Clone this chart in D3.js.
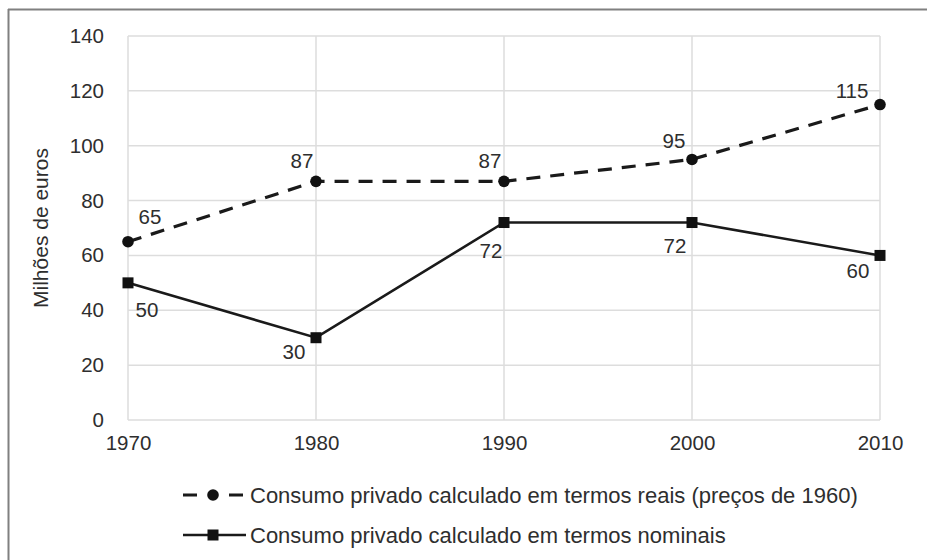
<!DOCTYPE html>
<html>
<head>
<meta charset="utf-8">
<script src="https://cdn.jsdelivr.net/npm/d3@7"></script>
<style>
  html, body { margin: 0; padding: 0; background: #fff; }
  svg { display: block; }
  text { font-family: "Liberation Sans", Arial, sans-serif; fill: #2e2e2e; }
</style>
</head>
<body>
<svg id="chart" width="927" height="560"></svg>
<script>
// ---- data ----
const years = [1970, 1980, 1990, 2000, 2010];
const realValues = [65, 87, 87, 95, 115];
const nominalValues = [50, 30, 72, 72, 60];
const yTicks = [0, 20, 40, 60, 80, 100, 120, 140];
const seriesNames = [
  "Consumo privado calculado em termos reais (preços de 1960)",
  "Consumo privado calculado em termos nominais"
];
const yTitle = "Milhões de euros";

// ---- layout ----
const W = 927, H = 560;
const plot = { left: 128, right: 880, top: 36, bottom: 420 };

const svg = d3.select("#chart");

// outer frame (top and left edges visible)
svg.append("line").attr("x1", 8).attr("x2", W).attr("y1", 9.5).attr("y2", 9.5)
  .attr("stroke", "#808080").attr("stroke-width", 2);
svg.append("line").attr("x1", 8.5).attr("x2", 8.5).attr("y1", 9).attr("y2", H)
  .attr("stroke", "#808080").attr("stroke-width", 2);

const x = d3.scalePoint().domain(years).range([plot.left, plot.right]);
const y = d3.scaleLinear().domain([0, 140]).range([plot.bottom, plot.top]);

// gridlines
const grid = svg.append("g");
grid.selectAll(".hg").data(yTicks).join("line")
  .attr("x1", plot.left).attr("x2", plot.right)
  .attr("y1", d => y(d)).attr("y2", d => y(d))
  .attr("stroke", "#dddddd").attr("stroke-width", 1.5);
grid.selectAll(".vg").data(years).join("line")
  .attr("x1", d => x(d)).attr("x2", d => x(d))
  .attr("y1", plot.top).attr("y2", plot.bottom)
  .attr("stroke", "#dddddd").attr("stroke-width", 1.5);

// axes (labels only)
const yAxis = svg.append("g").attr("transform", `translate(${plot.left},0)`)
  .call(d3.axisLeft(y).tickValues(yTicks).tickSize(0).tickPadding(24));
yAxis.select(".domain").remove();
yAxis.selectAll("text").attr("font-size", 20.5).attr("fill", "#2e2e2e")
  .attr("font-family", "Liberation Sans, Arial, sans-serif");

const xAxis = svg.append("g").attr("transform", `translate(0,${plot.bottom})`)
  .call(d3.axisBottom(x).tickFormat(d3.format("d")).tickSize(0).tickPadding(15));
xAxis.select(".domain").remove();
xAxis.selectAll("text").attr("font-size", 20.5).attr("fill", "#2e2e2e")
  .attr("font-family", "Liberation Sans, Arial, sans-serif");

// y title
svg.append("text")
  .attr("transform", `translate(48,228) rotate(-90)`)
  .attr("text-anchor", "middle")
  .attr("font-size", 21)
  .text(yTitle);

const realData = years.map((yr, i) => ({ yr, v: realValues[i] }));
const nomData = years.map((yr, i) => ({ yr, v: nominalValues[i] }));
const line = d3.line().x(d => x(d.yr)).y(d => y(d.v));

// real series (dashed, circles)
svg.append("path").datum(realData).attr("d", line)
  .attr("fill", "none").attr("stroke", "#1a1a1a").attr("stroke-width", 3.2)
  .attr("stroke-dasharray", "14,10");
svg.selectAll(".rc").data(realData).join("circle")
  .attr("cx", d => x(d.yr)).attr("cy", d => y(d.v)).attr("r", 5.8)
  .attr("fill", "#111");

// nominal series (solid, squares)
svg.append("path").datum(nomData).attr("d", line)
  .attr("fill", "none").attr("stroke", "#1a1a1a").attr("stroke-width", 2.6);
const sq = 11;
svg.selectAll(".ns").data(nomData).join("rect")
  .attr("x", d => x(d.yr) - sq / 2).attr("y", d => y(d.v) - sq / 2)
  .attr("width", sq).attr("height", sq).attr("fill", "#111");

// data labels (offsets only; values from data)
const realOffsets = [[22, -18], [-14, -13], [-14, -13], [-18, -11], [-28, -7]];
const nomOffsets = [[19, 34], [-22, 21], [-13, 35], [-17, 30], [-22, 23]];
svg.selectAll(".rl").data(realData).join("text")
  .attr("x", (d, i) => x(d.yr) + realOffsets[i][0])
  .attr("y", (d, i) => y(d.v) + realOffsets[i][1])
  .attr("text-anchor", "middle").attr("font-size", 20.5)
  .text(d => d.v);
svg.selectAll(".nl").data(nomData).join("text")
  .attr("x", (d, i) => x(d.yr) + nomOffsets[i][0])
  .attr("y", (d, i) => y(d.v) + nomOffsets[i][1])
  .attr("text-anchor", "middle").attr("font-size", 20.5)
  .text(d => d.v);

// legend
const lg = svg.append("g");
const lx0 = 183, lx1 = 246, lmid = 213;
// row 1
lg.append("line").attr("x1", lx0).attr("x2", lx1).attr("y1", 495).attr("y2", 495)
  .attr("stroke", "#1a1a1a").attr("stroke-width", 3.2).attr("stroke-dasharray", "14,32");
lg.append("circle").attr("cx", lmid).attr("cy", 495).attr("r", 5.8).attr("fill", "#111");
lg.append("text").attr("x", 250).attr("y", 502.5).attr("font-size", 22).text(seriesNames[0]);
// row 2
lg.append("line").attr("x1", lx0).attr("x2", lx1).attr("y1", 535).attr("y2", 535)
  .attr("stroke", "#1a1a1a").attr("stroke-width", 2.6);
lg.append("rect").attr("x", lmid - sq / 2).attr("y", 535 - sq / 2).attr("width", sq).attr("height", sq).attr("fill", "#111");
lg.append("text").attr("x", 250).attr("y", 542.5).attr("font-size", 22).text(seriesNames[1]);
</script>
</body>
</html>
